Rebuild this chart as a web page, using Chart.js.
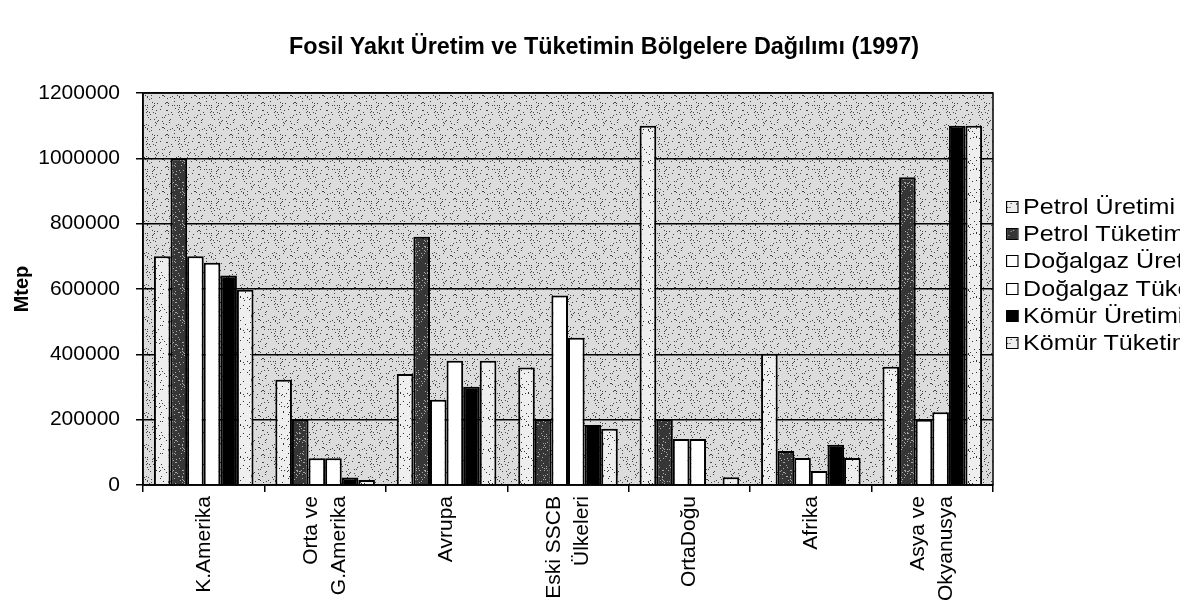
<!DOCTYPE html>
<html>
<head>
<meta charset="utf-8">
<script src="https://cdn.jsdelivr.net/npm/chart.js@4.4.0/dist/chart.umd.min.js"></script>
<style>
  html, body { margin: 0; padding: 0; background: #fff; overflow: hidden; }
  .wrap { position: relative; width: 1180px; height: 615px; overflow: hidden; }
  #title { position: absolute; left: 289px; width: 600px; top: 32px; text-align: center; white-space: nowrap;
           font-family: "Liberation Sans", Arial, sans-serif; font-weight: bold; font-size: 23.4px; color: #000; line-height: 28px; }
  #legend { position: absolute; left: 1006px; top: 193px; font-family: "Liberation Sans", Arial, sans-serif; font-size: 22px; color: #000;
            white-space: nowrap; transform: scaleX(1.14); transform-origin: 0 0; }
  #legend .item { height: 27.3px; display: flex; align-items: center; }
  #legend .sw { width: 9px; height: 10px; border: 1.5px solid #000; margin-right: 4px; flex: none; }
</style>
</head>
<body>
<div class="wrap">
  <canvas id="chart" width="1180" height="615"></canvas>
  <div id="title">Fosil Yakıt Üretim ve Tüketimin Bölgelere Dağılımı (1997)</div>
  <div id="legend"></div>
</div>
<script>
const regions = ['K.Amerika', ['Orta ve', 'G.Amerika'], 'Avrupa', ['Eski SSCB', 'Ülkeleri'], 'OrtaDoğu', 'Afrika', ['Asya ve', 'Okyanusya']];
const seriesNames = ['Petrol Üretimi', 'Petrol Tüketimi', 'Doğalgaz Üretimi', 'Doğalgaz Tüketimi', 'Kömür Üretimi', 'Kömür Tüketimi'];

const petrolUretim = [700000, 322000, 340000, 360000, 1100000, 402000, 362000];
const petrolTuketim = [1000000, 200000, 760000, 202000, 202000, 104000, 942000];
const dogalgazUretim = [700000, 82000, 261000, 580000, 141000, 83000, 200000];
const dogalgazTuketim = [680000, 82000, 380000, 451000, 141000, 43000, 223000];
const komurUretim = [641000, 23000, 301000, 184000, 0, 123000, 1100000];
const komurTuketim = [598000, 15000, 380000, 172000, 24000, 83000, 1100000];

const yTicks = [0, 200000, 400000, 600000, 800000, 1000000, 1200000];

// speckle textures, fixed seed so every render looks the same
function speckle(bg, dot, count, seed) {
  const c = document.createElement('canvas');
  c.width = 32; c.height = 32;
  const g = c.getContext('2d');
  g.fillStyle = bg;
  g.fillRect(0, 0, 32, 32);
  let s = seed;
  const rnd = () => { s = (s * 1103515245 + 12345) % 2147483648; return s / 2147483648; };
  g.fillStyle = dot;
  for (let i = 0; i < count; i++) {
    g.fillRect(Math.floor(rnd() * 32), Math.floor(rnd() * 32), 1, 1);
  }
  return c;
}

const plotTex = speckle('#dcdcdc', '#444', 75, 7);
const lightTex = speckle('#eeeeee', '#333', 45, 11);
const darkTex = speckle('#363636', '#aaa', 90, 23);

const ctx = document.getElementById('chart').getContext('2d');
const plotFill = ctx.createPattern(plotTex, 'repeat');
const lightFill = ctx.createPattern(lightTex, 'repeat');
const darkFill = ctx.createPattern(darkTex, 'repeat');

const fills = [lightFill, darkFill, '#ffffff', '#ffffff', '#000000', lightFill];
const swatchCss = [
  'url(' + lightTex.toDataURL() + ')', 'url(' + darkTex.toDataURL() + ')',
  '#ffffff', '#ffffff', '#000000', 'url(' + lightTex.toDataURL() + ')'
];
const values = [petrolUretim, petrolTuketim, dogalgazUretim, dogalgazTuketim, komurUretim, komurTuketim];

const plotBox = {
  id: 'plotBox',
  beforeDraw(chart) {
    const a = chart.chartArea;
    const c = chart.ctx;
    c.save();
    c.fillStyle = plotFill;
    c.fillRect(a.left, a.top, a.right - a.left, a.bottom - a.top);
    c.restore();
    // centre the two-line category labels on their ticks
    chart.scales.x.getLabelItems().forEach(it => {
      const n = Array.isArray(it.label) ? it.label.length : 1;
      if (n > 1 && !it._moved) {
        it.options.translation[0] -= (n - 1) * it.font.lineHeight / 2;
        it._moved = true;
      }
    });
  },
  afterDraw(chart) {
    const a = chart.chartArea;
    const c = chart.ctx;
    c.save();
    c.strokeStyle = '#000';
    c.lineWidth = 1.5;
    c.strokeRect(a.left, a.top, a.right - a.left, a.bottom - a.top);
    c.restore();
  }
};

const font = "'Liberation Sans', Arial, sans-serif";

new Chart(ctx, {
  type: 'bar',
  data: {
    labels: regions,
    datasets: seriesNames.map((name, i) => ({
      label: name,
      data: values[i],
      backgroundColor: fills[i],
      borderColor: '#000',
      borderWidth: 2,
      borderSkipped: 'bottom',
      categoryPercentage: 0.82,
      barPercentage: 1.0
    }))
  },
  options: {
    responsive: false,
    animation: false,
    layout: { padding: { left: 0, right: 187, top: 93, bottom: 0 } },
    plugins: {
      legend: { display: false },
      tooltip: { enabled: false },
      title: { display: false }
    },
    scales: {
      x: {
        grid: { display: true, drawOnChartArea: false, drawTicks: true, tickLength: 7, color: '#000', lineWidth: 1.5, offset: true },
        border: { color: '#000', width: 1.5 },
        ticks: { color: '#000', font: { family: font, size: 21, lineHeight: 1.35 }, maxRotation: 90, minRotation: 90, padding: 4, autoSkip: false },
        afterFit(scale) { scale.height = 130; }
      },
      y: {
        min: 0,
        max: 1200000,
        afterBuildTicks(scale) { scale.ticks = yTicks.map(v => ({ value: v })); },
        grid: { color: '#000', lineWidth: 1.5, tickLength: 7 },
        border: { color: '#000', width: 1.5 },
        ticks: { color: '#000', font: { family: font, size: 21 }, padding: 16, callback: v => String(v) },
        title: { display: true, text: 'Mtep', color: '#000', font: { family: font, size: 20, weight: 'bold' }, padding: { top: 10, bottom: 0 } },
        afterFit(scale) { scale.width = 143; }
      }
    }
  },
  plugins: [plotBox]
});

const legend = document.getElementById('legend');
seriesNames.forEach((name, i) => {
  const row = document.createElement('div');
  row.className = 'item';
  const sw = document.createElement('span');
  sw.className = 'sw';
  sw.style.background = swatchCss[i];
  const tx = document.createElement('span');
  tx.textContent = name;
  row.appendChild(sw);
  row.appendChild(tx);
  legend.appendChild(row);
});
</script>
</body>
</html>
